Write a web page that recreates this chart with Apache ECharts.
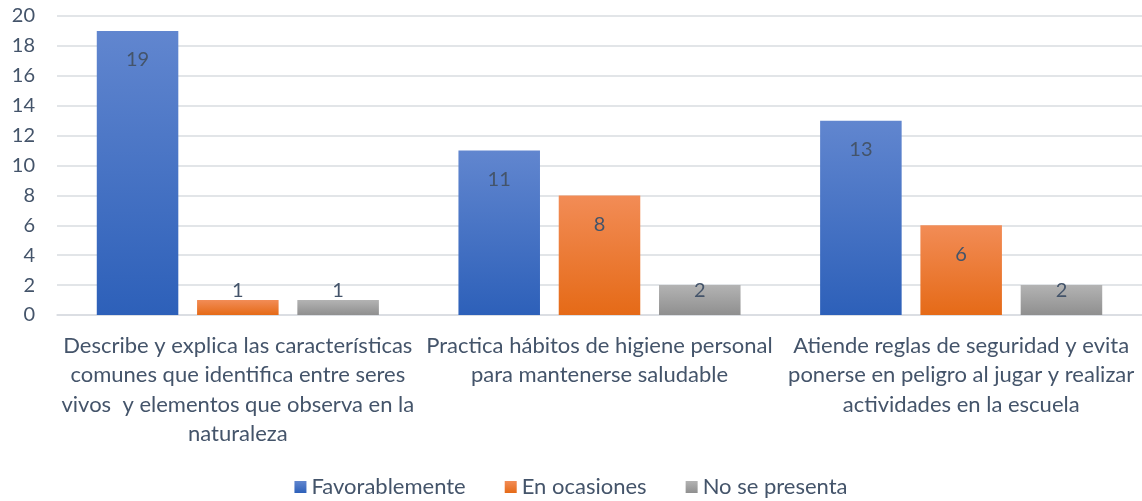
<!DOCTYPE html>
<html>
<head>
<meta charset="utf-8">
<script src="https://cdn.jsdelivr.net/npm/echarts@6/dist/echarts.min.js"></script>
<style>
  html, body { margin: 0; padding: 0; background: #fff; }
  #chart { width: 1142px; height: 501px; }
</style>
</head>
<body>
<div id="chart"></div>
<script>
// 类别（按原图换行）
const categories = [
    'Describe y explica las características\ncomunes que identifica entre seres\nvivos  y elementos que observa en la\nnaturaleza',
    'Practica hábitos de higiene personal\npara mantenerse saludable',
    'Atiende reglas de seguridad y evita\nponerse en peligro al jugar y realizar\nactividades en la escuela'
];
const seriesNames = ['Favorablemente', 'En ocasiones', 'No se presenta'];
const favorablemente = [19, 11, 13];
const enOcasiones = [1, 8, 6];
const noSePresenta = [1, 2, 2];
const yTicks = { min: 0, max: 20, interval: 2 };

const textColor = '#44546a';
const fontFamily = 'Lato, "Open Sans", sans-serif';

// 渐变色（上浅下深）
function grad(top, bottom) {
    return new echarts.graphic.LinearGradient(0, 0, 0, 1, [
        { offset: 0, color: top },
        { offset: 1, color: bottom }
    ]);
}

function barSeries(name, data, color) {
    return {
        name: name,
        type: 'bar',
        data: data,
        barGap: '23%',
        barCategoryGap: '22%',
        itemStyle: { color: color },
        label: {
            show: true,
            position: 'insideTop',
            color: textColor,
            fontFamily: fontFamily,
            fontSize: 20
        },
        labelLayout: function (p) {
            // 标签放在柱顶内侧，过短的柱则贴近底部
            const r = p.rect;
            return {
                x: r.x + r.width / 2,
                y: Math.min(r.y + 29, r.y + r.height - 24),
                align: 'center',
                verticalAlign: 'middle'
            };
        }
    };
}

const chart = echarts.init(document.getElementById('chart'));
chart.setOption({
    animation: false,
    textStyle: { fontFamily: fontFamily },
    grid: { left: 57, right: 0, top: 16, bottom: 186, containLabel: false },
    legend: {
        top: 471,
        left: 'center',
        itemWidth: 12,
        itemHeight: 12,
        itemGap: 39,
        icon: 'rect',
        textStyle: { color: textColor, fontSize: 22, fontFamily: fontFamily },
        data: seriesNames
    },
    xAxis: {
        type: 'category',
        data: categories,
        axisLine: { show: true, lineStyle: { color: '#d9dce1', width: 1.5 } },
        axisTick: { show: false },
        axisLabel: {
            color: textColor,
            fontSize: 22,
            lineHeight: 29.5,
            margin: 16,
            interval: 0,
            align: 'center'
        }
    },
    yAxis: {
        type: 'value',
        min: yTicks.min,
        max: yTicks.max,
        interval: yTicks.interval,
        axisLine: { show: false },
        axisTick: { show: false },
        axisLabel: { color: textColor, fontSize: 20, margin: 22 },
        splitLine: { lineStyle: { color: '#d9dce1', width: 1.5 } }
    },
    series: [
        barSeries(seriesNames[0], favorablemente, grad('#6186cf', '#2d60b9')),
        barSeries(seriesNames[1], enOcasiones, grad('#f28c56', '#e56a17')),
        barSeries(seriesNames[2], noSePresenta, grad('#b3b3b3', '#8f8f8f'))
    ]
});
</script>
</body>
</html>
